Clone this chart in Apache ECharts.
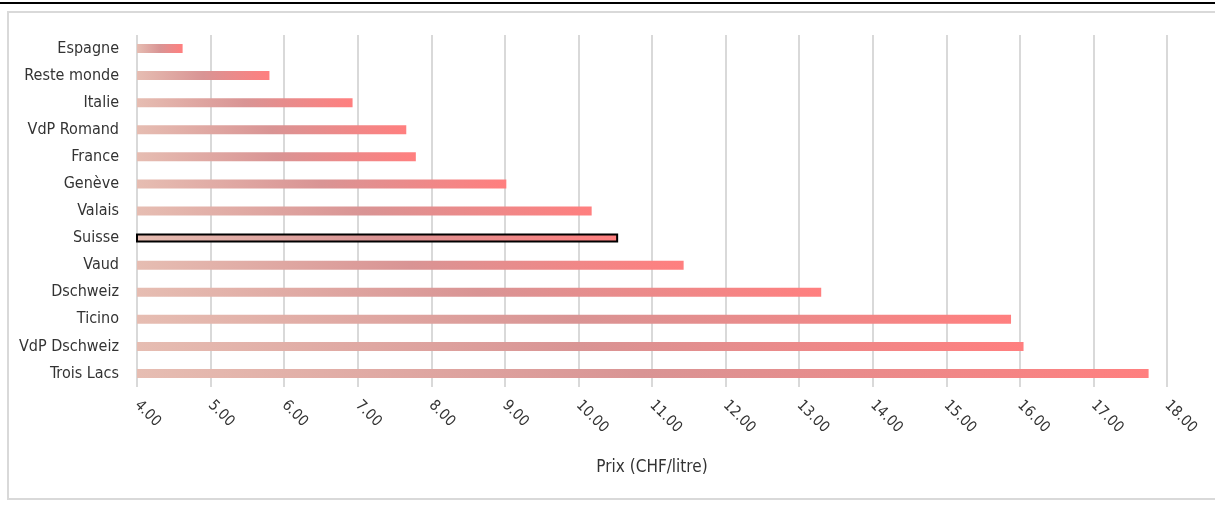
<!DOCTYPE html>
<html>
<head>
<meta charset="utf-8">
<script src="https://cdn.jsdelivr.net/npm/echarts@6/dist/echarts.min.js"></script>
<style>
  html, body { margin: 0; padding: 0; background: #fff; }
  #topline { position: absolute; left: 0; top: 2px; width: 1215px; height: 2px; background: #000; }
  #frame { position: absolute; left: 7px; top: 11px; width: 1215px; height: 489px; border: 2px solid #d9d9d9; box-sizing: border-box; }
  #chart { position: absolute; left: 0; top: 0; width: 1215px; height: 506px; }
</style>
</head>
<body>
<div id="topline"></div>
<div id="frame"></div>
<div id="chart"></div>
<script>
const categories = ["Espagne", "Reste monde", "Italie", "VdP Romand", "France", "Genève", "Valais", "Suisse", "Vaud", "Dschweiz", "Ticino", "VdP Dschweiz", "Trois Lacs"];
const prices = [4.62, 5.80, 6.93, 7.66, 7.79, 9.02, 10.18, 10.54, 11.43, 13.30, 15.88, 16.05, 17.75];
const highlighted = "Suisse";
const axisTitle = "Prix (CHF/litre)";

const FONT = '"DejaVu Sans Condensed", "Liberation Sans Narrow", "Roboto", sans-serif';
const gradient = new echarts.graphic.LinearGradient(0, 0, 1, 0, [
  { offset: 0, color: '#E6BDB2' },
  { offset: 0.5, color: '#D99494' },
  { offset: 1, color: '#FF7F7F' }
]);

const chart = echarts.init(document.getElementById('chart'), null, { renderer: 'canvas' });
chart.setOption({
  animation: false,
  backgroundColor: 'transparent',
  grid: { left: 137, right: 48, top: 35, bottom: 119, containLabel: false },
  xAxis: {
    type: 'value',
    min: 4, max: 18, interval: 1,
    axisLine: { show: false },
    axisTick: { show: false },
    splitLine: { show: true, lineStyle: { color: '#d9d9d9', width: 2 } },
    axisLabel: {
      rotate: -45, margin: 16, color: '#333333', fontSize: 15, fontFamily: FONT,
      formatter: v => v.toFixed(2)
    },
    name: axisTitle,
    nameLocation: 'middle',
    nameGap: 72,
    nameTextStyle: { color: '#333333', fontSize: 17, fontFamily: FONT }
  },
  yAxis: {
    type: 'category',
    data: categories,
    inverse: true,
    axisLine: { show: false },
    axisTick: { show: false },
    axisLabel: { margin: 18, color: '#333333', fontSize: 16, fontFamily: FONT }
  },
  series: [{
    type: 'bar',
    barWidth: 9,
    data: categories.map((c, i) => ({
      value: prices[i],
      itemStyle: c === highlighted
        ? { color: gradient, borderColor: '#000', borderWidth: 2 }
        : { color: gradient }
    }))
  }]
});
</script>
</body>
</html>
